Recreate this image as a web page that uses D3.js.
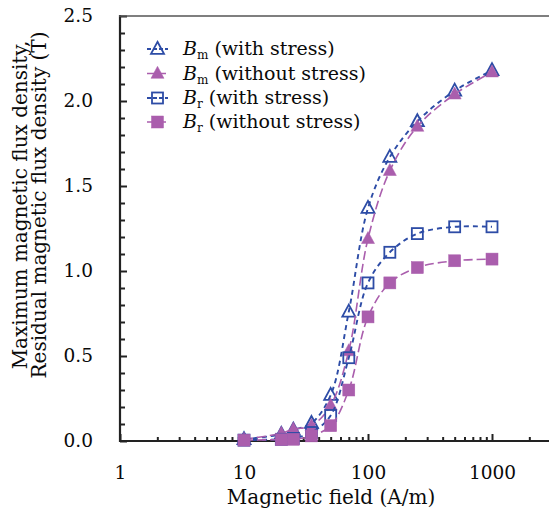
<!DOCTYPE html>
<html>
<head>
<meta charset="utf-8">
<script src="https://cdn.jsdelivr.net/npm/d3@7"></script>
<style>
  html, body { margin: 0; padding: 0; background: #fff; }
  svg { display: block; font-family: "DejaVu Serif", serif; }
</style>
</head>
<body>
<svg id="chart" width="549" height="512"></svg>
<script>
// Magnetic field (A/m) at each measurement
const fieldValues = [10, 20, 25, 35, 50, 70, 100, 150, 250, 500, 1000];

// Flux densities (T)
const bmWithStress    = [0.01, 0.04, 0.065, 0.105, 0.27, 0.76, 1.37, 1.67, 1.88, 2.06, 2.18];
const bmWithoutStress = [0.01, 0.045, 0.07, 0.09, 0.21, 0.53, 1.19, 1.59, 1.85, 2.04, 2.17];
const brWithStress    = [0.005, 0.01, 0.015, 0.05, 0.15, 0.49, 0.93, 1.11, 1.22, 1.26, 1.26];
const brWithoutStress = [0.005, 0.008, 0.01, 0.03, 0.09, 0.30, 0.73, 0.93, 1.02, 1.06, 1.07];

// Axis ticks
const xMajorTicks = [1, 10, 100, 1000];
const xMinorTicks = [2,3,4,5,6,7,8,9,20,30,40,50,60,70,80,90,200,300,400,500,600,700,800,900,2000];
const yMajorTicks = [0, 0.5, 1.0, 1.5, 2.0, 2.5];
const yMinorTicks = d3.range(0, 26).map(i => i / 10).filter(v => Math.round(v * 10) % 5 !== 0);

const BLUE = "#2d4ca6";
const PURPLE = "#aa5ead";

const series = [
  { label: "B", sub: "m", rest: " (with stress)",    values: bmWithStress,    color: BLUE,   shape: "triangle", filled: false, dash: "5,4" },
  { label: "B", sub: "m", rest: " (without stress)", values: bmWithoutStress, color: PURPLE, shape: "triangle", filled: true,  dash: "9,4" },
  { label: "B", sub: "r", rest: " (with stress)",    values: brWithStress,    color: BLUE,   shape: "square",   filled: false, dash: "5,4" },
  { label: "B", sub: "r", rest: " (without stress)", values: brWithoutStress, color: PURPLE, shape: "square",   filled: true,  dash: "9,4" }
];

const svg = d3.select("#chart");
const plotLeft = 120, plotTop = 16, plotBottom = 441;
const decade = 124;

const x = d3.scaleLog().domain([1, 3000]).range([plotLeft, plotLeft + decade * Math.log10(3000)]);
const y = d3.scaleLinear().domain([0, 2.5]).range([plotBottom, plotTop]);

const axisColor = "#222";
const textColor = "#0a0a0a";

// x axis: major and minor ticks point inward
const gxMinor = svg.append("g").attr("transform", `translate(0,${plotBottom})`)
  .call(d3.axisBottom(x).tickValues(xMinorTicks).tickSize(-4).tickFormat(""));
const gx = svg.append("g").attr("transform", `translate(0,${plotBottom})`)
  .call(d3.axisBottom(x).tickValues(xMajorTicks).tickSize(-7).tickPadding(25).tickFormat(d3.format("d")));

// y axis
const gyMinor = svg.append("g").attr("transform", `translate(${plotLeft},0)`)
  .call(d3.axisLeft(y).tickValues(yMinorTicks).tickSize(-5).tickFormat(""));
const gy = svg.append("g").attr("transform", `translate(${plotLeft},0)`)
  .call(d3.axisLeft(y).tickValues(yMajorTicks).tickSize(-7).tickPadding(27).tickFormat(d3.format(".1f")));

[gxMinor, gx, gyMinor, gy].forEach(g => {
  g.select(".domain").remove();
  g.selectAll(".tick line").attr("stroke", axisColor).attr("stroke-width", 2);
  g.selectAll(".tick text").attr("fill", textColor).attr("font-size", 18.5)
    .attr("font-family", "DejaVu Serif, serif");
});

// frame lines: left, bottom, top
svg.append("line").attr("x1", plotLeft).attr("x2", plotLeft).attr("y1", plotTop - 1).attr("y2", plotBottom + 1)
  .attr("stroke", axisColor).attr("stroke-width", 2.2);
svg.append("line").attr("x1", plotLeft - 1).attr("x2", 549).attr("y1", plotBottom).attr("y2", plotBottom)
  .attr("stroke", axisColor).attr("stroke-width", 2.2);
svg.append("line").attr("x1", plotLeft - 1).attr("x2", 549).attr("y1", plotTop).attr("y2", plotTop)
  .attr("stroke", "#555").attr("stroke-width", 1.6);

// axis titles
svg.append("text")
  .attr("x", 331).attr("y", 504)
  .attr("text-anchor", "middle").attr("font-size", 20).attr("fill", textColor)
  .text("Magnetic field (A/m)");

const yTitle = svg.append("g").attr("transform", "translate(0,205) rotate(-90)");
yTitle.append("text").attr("x", 0).attr("y", 27)
  .attr("text-anchor", "middle").attr("font-size", 20).attr("fill", textColor)
  .text("Maximum magnetic flux density,");
yTitle.append("text").attr("x", 0).attr("y", 46)
  .attr("text-anchor", "middle").attr("font-size", 20).attr("fill", textColor)
  .text("Residual magnetic flux density (T)");

// marker drawing
function drawMarker(g, s, cx, cy) {
  if (s.shape === "triangle") {
    const h = 12, w = 13;
    g.append("path")
      .attr("d", `M${cx},${cy - h * 0.6} L${cx + w / 2},${cy + h * 0.4} L${cx - w / 2},${cy + h * 0.4} Z`)
      .attr("fill", s.filled ? s.color : "none")
      .attr("stroke", s.color).attr("stroke-width", s.filled ? 0.5 : 1.8);
  } else {
    const a = s.filled ? 12 : 11;
    g.append("rect")
      .attr("x", cx - a / 2).attr("y", cy - a / 2).attr("width", a).attr("height", a)
      .attr("fill", s.filled ? s.color : "none")
      .attr("stroke", s.color).attr("stroke-width", s.filled ? 0.5 : 1.8);
  }
}

const line = d3.line()
  .x(d => x(d[0]))
  .y(d => y(d[1]))
  .curve(d3.curveCatmullRom.alpha(0.5));

series.forEach(s => {
  const pts = fieldValues.map((f, i) => [f, s.values[i]]);
  const g = svg.append("g");
  g.append("path").attr("d", line(pts))
    .attr("fill", "none").attr("stroke", s.color)
    .attr("stroke-width", s.filled ? 1.6 : 1.9).attr("stroke-dasharray", s.dash);
  pts.forEach(p => drawMarker(g, s, x(p[0]), y(p[1])));
});

// legend
const legendY = [49, 73.5, 98, 122];
series.forEach((s, i) => {
  const g = svg.append("g");
  const cy = legendY[i];
  g.append("line").attr("x1", 147).attr("x2", 168).attr("y1", cy).attr("y2", cy)
    .attr("stroke", s.color).attr("stroke-width", s.filled ? 1.6 : 1.9)
    .attr("stroke-dasharray", s.filled ? "8,3" : "4,2");
  drawMarker(g, s, 157.5, cy);
  const t = g.append("text").attr("x", 183).attr("y", cy + 6)
    .attr("font-size", 19).attr("fill", textColor);
  t.append("tspan").attr("font-style", "italic").text(s.label);
  t.append("tspan").attr("font-size", 12).attr("dy", 4).text(s.sub);
  t.append("tspan").attr("dy", -4).text(s.rest);
});
</script>
</body>
</html>
